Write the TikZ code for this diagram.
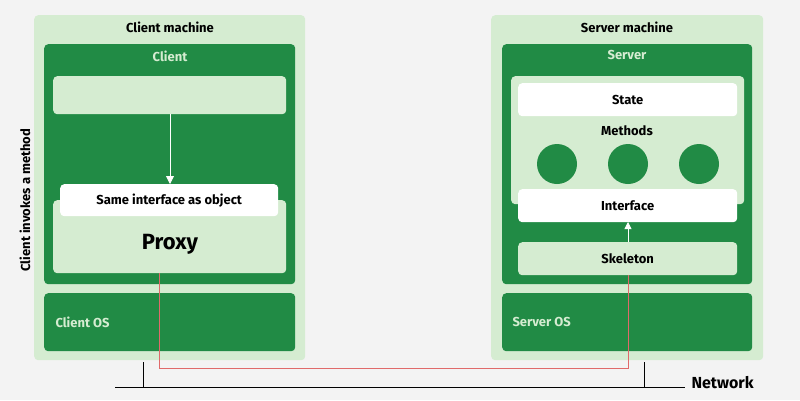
\documentclass[tikz,border=0pt]{standalone}
\usepackage{fontspec}
\setmainfont{Fira Sans}
\usetikzlibrary{arrows.meta}
\definecolor{dg}{HTML}{218B45}
\definecolor{lg}{HTML}{D5ECD1}
\definecolor{bgc}{HTML}{F3F3F3}
\definecolor{rl}{HTML}{E06A6A}
\tikzset{x=1pt,y=-1pt,
 box/.style={rounded corners=4pt,inner sep=0pt},
 txt/.style={font=\fontsize{13}{15}\selectfont\bfseries},
}
\begin{document}
\begin{tikzpicture}
\fill[bgc] (0,0) rectangle (800,400);
% client
\node[box,fill=lg,minimum width=271,minimum height=345,anchor=north west] (cm) at (34,15) {};
\node[txt,anchor=north] at (170,18) {Client machine};
\node[box,fill=dg,minimum width=251,minimum height=240,anchor=north west] (cl) at (44,44) {};
\node[txt,text=lg,anchor=north] at (170,47) {Client};
\node[box,fill=lg,minimum width=233,minimum height=38,anchor=north west] (top) at (53,76) {};
\node[box,fill=lg,minimum width=233,minimum height=73,anchor=north west] (px) at (53,200) {};
\node[font=\fontsize{22}{24}\selectfont\bfseries] at (170,244) {Proxy};
\node[box,fill=white,minimum width=218,minimum height=32,anchor=north west,txt] (si) at (60,184) {};
\node[txt] at (si.center) {Same interface as object};
\draw[white,thick,-{Triangle[length=8pt,width=8pt]}] (170,114) -- (si.north -| 170,0);
\node[box,fill=dg,minimum width=251,minimum height=58,anchor=north west] (cos) at (44,293) {};
\node[txt,text=lg,anchor=west] at (52,322) {Client OS};
% server
\node[box,fill=lg,minimum width=272,minimum height=345,anchor=north west] (sm) at (491,15) {};
\node[txt,anchor=north] at (627,18) {Server machine};
\node[box,fill=dg,minimum width=250,minimum height=240,anchor=north west] (sv) at (502,44) {};
\node[txt,text=lg,anchor=north] at (627,47) {Server};
\node[box,fill=lg,minimum width=233,minimum height=128,anchor=north west] (obj) at (511,76) {};
\node[box,fill=white,minimum width=219,minimum height=33,anchor=north west] (st) at (518,83) {};
\node[txt] at (st.center) {State};
\node[txt] at (627,131) {Methods};
\foreach \cx/\n in {557/a,628/b,699/c} \fill[dg] (\cx,164) circle (20);
\node[box,fill=white,minimum width=219,minimum height=33,anchor=north west] (if) at (518,189) {};
\node[txt] at (if.center) {Interface};
\node[box,fill=lg,minimum width=219,minimum height=33,anchor=north west] (sk) at (518,242) {};
\node[txt] at (sk.center) {Skeleton};
\draw[white,thick,-{Triangle[length=7pt,width=7pt]}] (628,242) -- (628,222);
\node[box,fill=dg,minimum width=250,minimum height=58,anchor=north west] (sos) at (502,293) {};
\node[txt,text=lg,anchor=west] at (509,322) {Server OS};
% red link
\coordinate (r1) at (159,273);
\coordinate (r2) at (628,275);
\draw[rl,thick] (r1) -- (159,368) -- (628,368) -- (r2);
% network
\coordinate (n1) at (115,387);
\coordinate (n2) at (685,387);
\draw[black,thick] (n1) -- (n2);
\draw[black,thick] (143,362) -- (143,387);
\draw[black,thick] (644,362) -- (644,387);
\node[font=\fontsize{16}{18}\selectfont\bfseries,anchor=west] at (688,383) {Network};
\node[txt,rotate=90] at (25,200) {Client invokes a method};
\end{tikzpicture}
\end{document}
